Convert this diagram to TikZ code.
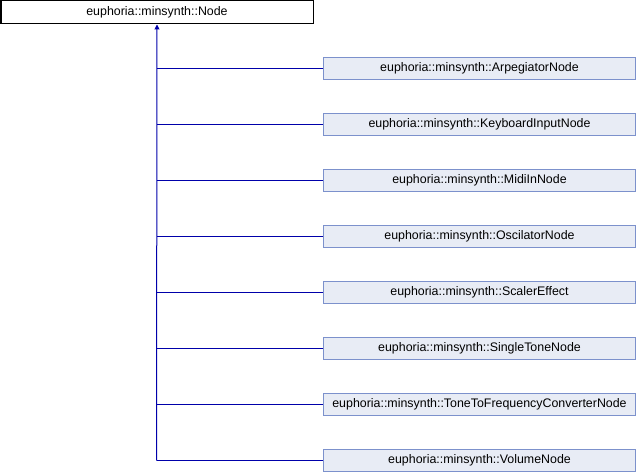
\documentclass[tikz,border=0pt]{standalone}
\usepackage{fontspec}
\setmainfont{Liberation Sans}
\usetikzlibrary{arrows.meta}
\definecolor{edgeblue}{RGB}{0,0,170}
\definecolor{boxfill}{RGB}{232,236,245}
\definecolor{boxline}{RGB}{124,145,204}
\begin{document}
\begin{tikzpicture}[x=1bp,y=-1bp,
  font=\fontsize{12.4bp}{14bp}\selectfont,
  basebox/.style={draw=black,fill=white,line width=1bp,minimum width=312bp,minimum height=23bp,inner sep=0pt,anchor=north west},
  childbox/.style={draw=boxline,fill=boxfill,line width=1bp,minimum width=312bp,minimum height=22bp,inner sep=0pt},
  inherit/.style={draw=edgeblue,line width=1bp}]
\useasboundingbox (0,0) rectangle (636,472);
\node[basebox] (base) at (0.5,0.5) {euphoria::minsynth::Node};
\coordinate (trunk) at (156.5,460.5);
\foreach \name/\label [count=\i from 0] in {
  arp/ArpegiatorNode,
  kbd/KeyboardInputNode,
  midi/MidiInNode,
  osc/OscilatorNode,
  scaler/ScalerEffect,
  single/SingleToneNode,
  tone/ToneToFrequencyConverterNode,
  vol/VolumeNode}{
  \node[childbox] (\name) at (479.5,68.5+56*\i) {euphoria::minsynth::\label};
  \draw[inherit] (\name.west) -- (156.5,68.5+56*\i);
}
\draw[inherit,-{Triangle[length=5bp,width=5bp]}] (trunk) -- (base.south);
\end{tikzpicture}
\end{document}
